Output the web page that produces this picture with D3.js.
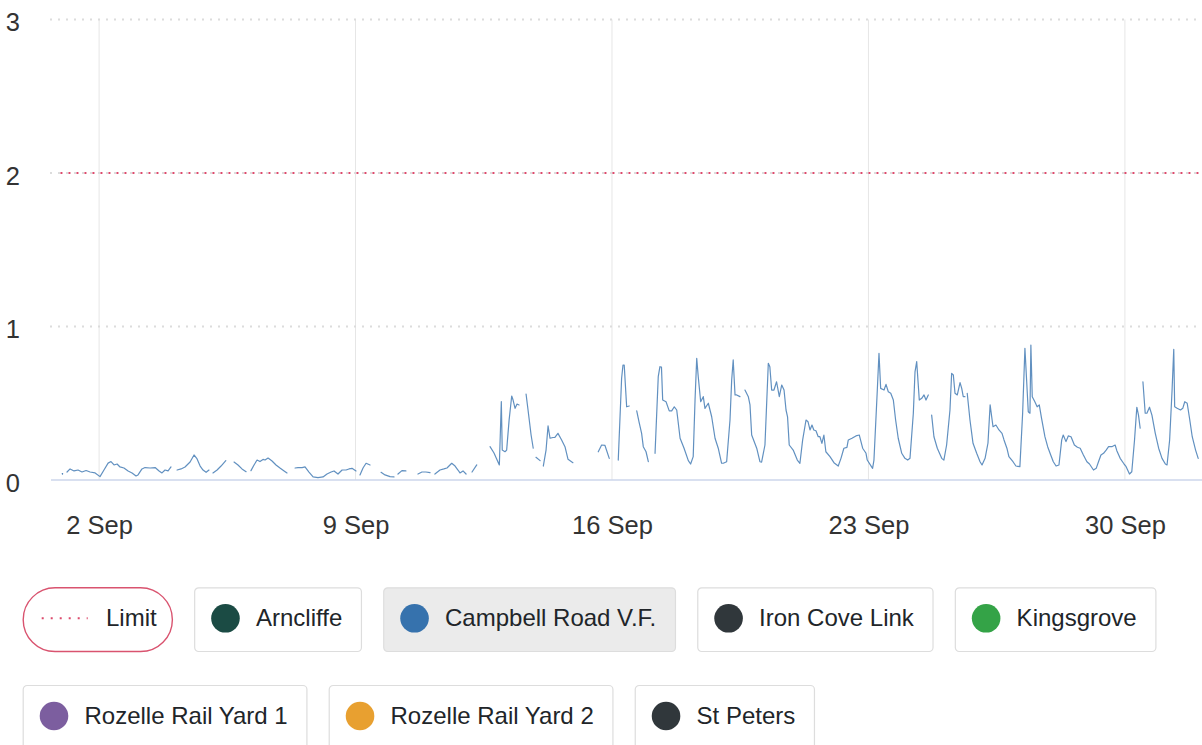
<!DOCTYPE html>
<html><head><meta charset="utf-8">
<script src="https://cdn.jsdelivr.net/npm/d3@7"></script>
<style>
html,body{margin:0;padding:0;background:#fff;overflow:hidden}
svg{display:block;font-family:"Liberation Sans",Arial,Helvetica,sans-serif}
</style></head><body>
<svg id="chart" width="1202" height="745"></svg>
<script>
// ---------- data ----------
const startDate = Date.UTC(2024, 8, 1);          // 1 Sep 00:00, hour 0 of the series
const yTicks = [0, 1, 2, 3];
const xTickDays = [2, 9, 16, 23, 30];             // 2 Sep, 9 Sep, 16 Sep, 23 Sep, 30 Sep
const limitValue = 2;
const legendNames = ["Limit", "Arncliffe", "Campbell Road V.F.", "Iron Cove Link", "Kingsgrove",
                     "Rozelle Rail Yard 1", "Rozelle Rail Yard 2", "St Peters"];
const legendColors = ["#dc4a6c", "#1b4b44", "#3672ad", "#30373b", "#34a347",
                      "#7c5e9f", "#e8a030", "#30373b"];
const activeSeries = "Campbell Road V.F.";
// Campbell Road V.F. : [hours since 1 Sep 00:00, value]; null = gap in the record
const campbellRoad = [
 [0,0.04], null,
 [3.0,0.052],[5.0,0.072],[7.6,0.059],[10.2,0.065],[12.8,0.052],[15.5,0.062],[18.1,0.052],[21.4,0.046],
 [24.6,0.022],[27.2,0.065],[29.9,0.11],[31.8,0.12],[33.8,0.098],[35.8,0.104],[37.7,0.085],[40.3,0.078],
 [43.0,0.059],[45.6,0.046],[48.2,0.026],[49.5,0.033],[52.1,0.072],[54.1,0.081],[57.4,0.078],[60.7,0.081],
 [63.3,0.059],[65.2,0.046],[67.2,0.065],[69.2,0.059],[71.1,0.085], null,
 [75.1,0.065],[77.7,0.072],[80.3,0.085],[83.6,0.117],[86.2,0.163],[88.2,0.137],[90.2,0.091],[92.1,0.065],
 [94.1,0.05],[96.0,0.065], null,
 [98.6,0.046],[101.3,0.065],[103.9,0.091],[107.0,0.126], null,
 [112.4,0.117],[115.0,0.098],[117.6,0.072],[120.3,0.054], null,
 [123.5,0.061],[125.5,0.098],[127.5,0.13],[129.4,0.12],[131.4,0.134],[132.7,0.13],[134.7,0.143],[137.3,0.124],
 [139.9,0.098],[142.5,0.078],[145.2,0.059],[147.1,0.046], null,
 [152.4,0.078],[154.3,0.081],[157.0,0.081],[158.9,0.085],[161.5,0.052],[164.2,0.02],[167.4,0.016],[170.7,0.02],
 [173.3,0.039],[176.0,0.052],[177.9,0.059],[180.5,0.039],[183.2,0.065],[185.8,0.065],[187.7,0.072],[189.7,0.076],
 [192.3,0.059], null,
 [194.9,0.033],[196.9,0.078],[198.9,0.109],[201.5,0.098], null,
 [208.7,0.05],[211.3,0.033],[214.6,0.022],[217.2,0.02], null,
 [219.8,0.039],[222.4,0.061],[225.0,0.059], null,
 [232.9,0.039],[235.5,0.052],[238.1,0.052],[240.8,0.048], null,
 [244.0,0.039],[247.3,0.065],[249.9,0.072],[251.9,0.078],[255.0,0.109],[257.2,0.091],[259.1,0.065],[260.4,0.046],
 [262.4,0.059],[264.4,0.039], null,
 [268.3,0.052],[271.4,0.098], null,
 [280.1,0.217],[282.7,0.176],[286.2,0.098],[287.5,0.51],[288.1,0.195],[289.9,0.184],[291.0,0.195],[292.6,0.39],
 [294.3,0.547],[295.2,0.521],[296.5,0.467],[297.8,0.495],[299.1,0.489], null,
 [303.7,0.56],[305.0,0.456],[307.0,0.293],[308.4,0.207], null,
 [310.2,0.148],[312.9,0.126], null,
 [315.0,0.091],[316.8,0.195],[318.1,0.352],[319.4,0.272],[321.3,0.277],[322.6,0.278],[324.6,0.304],[327.0,0.261],
 [329.2,0.217],[331.2,0.135],[334.4,0.113], null,
 [351.0,0.184],[353.2,0.228],[355.4,0.225],[358.2,0.141], null,
 [364.1,0.13],[366.3,0.663],[367.2,0.749],[368.0,0.749],[369.6,0.477],[371.3,0.482], null,
 [376.2,0.45],[377.7,0.378],[379.4,0.304],[380.5,0.217],[382.3,0.184],[383.8,0.119], null,
 [388.2,0.174],[390.3,0.673],[391.4,0.738],[392.4,0.736],[393.2,0.521],[395.4,0.51],[397.5,0.45],[399.1,0.45],
 [400.8,0.477],[402.4,0.456],[404.6,0.272],[407.2,0.207],[410.0,0.126],[411.5,0.104],[413.2,0.152],[414.4,0.521],
 [415.5,0.793],[416.5,0.673],[418.1,0.51],[419.8,0.543],[420.9,0.467],[423.1,0.5],[425.3,0.412],[427.5,0.272],
 [429.6,0.207],[431.8,0.109],[432.9,0.109],[435.1,0.119],[437.3,0.391],[438.4,0.651],[439.4,0.782],[440.6,0.554],
 [441.7,0.554],[443.8,0.543], null,
 [447.1,0.586],[449.3,0.543],[450.4,0.489],[451.5,0.293],[454.8,0.207],[456.9,0.119],[458.0,0.117],[460.2,0.228],
 [462.4,0.76],[463.4,0.738],[464.6,0.586],[466.1,0.586],[467.8,0.64],[469.6,0.543],[471.2,0.619],[472.7,0.586],
 [474.0,0.456],[475.0,0.412],[476.1,0.228],[478.7,0.195],[481.4,0.13],[483.1,0.109],[484.9,0.261],[487.1,0.391],
 [488.4,0.38],[489.7,0.326],[491.0,0.358],[492.2,0.326],[493.6,0.321],[495.1,0.282],[496.2,0.282],[497.5,0.239],
 [498.8,0.293],[500.1,0.184],[502.8,0.152],[505.4,0.113],[508.2,0.091],[510.0,0.141],[511.9,0.207],[513.9,0.213],
 [514.8,0.261],[517.2,0.272],[519.8,0.287],[522.0,0.293],[524.2,0.207],[526.4,0.174],[527.2,0.13],[530.7,0.076],
 [531.6,0.13],[533.8,0.586],[534.9,0.825],[536.0,0.597],[538.2,0.586],[539.5,0.623],[541.0,0.575],[542.6,0.565],
 [544.3,0.521],[545.8,0.391],[547.5,0.272],[549.8,0.174],[551.9,0.141],[553.7,0.13],[555.2,0.141],[557.4,0.435],
 [558.5,0.705],[559.6,0.771],[561.3,0.521],[562.9,0.532],[564.4,0.554],[565.7,0.521],[567.2,0.554], null,
 [569.4,0.423],[570.9,0.282],[573.1,0.207],[576.0,0.141],[577.4,0.13],[579.2,0.228],[581.4,0.456],[582.5,0.695],
 [583.6,0.684],[584.7,0.565],[586.2,0.554],[588.0,0.634],[589.1,0.597],[590.1,0.543],[591.2,0.543], null,
 [592.7,0.565],[594.5,0.391],[596.5,0.239],[598.9,0.174],[601.1,0.119],[602.4,0.098],[604.4,0.141],[606.3,0.241],
 [607.7,0.489],[609.6,0.347],[611.5,0.358],[613.5,0.326],[615.5,0.304],[616.8,0.261],[618.7,0.207],[620.0,0.152],
 [622.7,0.119],[624.6,0.091],[627.2,0.087],[629.0,0.435],[630.5,0.858],[631.6,0.651],[632.7,0.445],[633.8,0.435],
 [634.4,0.879],[635.3,0.543],[637.0,0.51],[638.5,0.477],[639.9,0.489],[641.4,0.402],[643.6,0.282],[645.4,0.217],
 [647.4,0.163],[649.1,0.119],[650.9,0.091],[652.8,0.098],[654.6,0.261],[655.6,0.293],[657.4,0.25],[658.9,0.287],
 [660.7,0.282],[662.9,0.228],[664.9,0.213],[666.7,0.207],[668.8,0.163],[671.1,0.119],[672.8,0.104],[675.4,0.065],
 [677.2,0.076],[678.7,0.119],[680.3,0.163],[682.0,0.174],[683.7,0.195],[685.3,0.217],[687.4,0.217],[689.6,0.228],
 [690.7,0.191],[692.9,0.141],[695.1,0.109],[696.8,0.087],[699.0,0.039],[700.5,0.054],[702.3,0.261],[703.8,0.474],
 [704.9,0.423],[706.0,0.337], null,
 [707.8,0.64],[709.3,0.435],[710.4,0.435],[712.1,0.474],[713.7,0.423],[715.9,0.304],[718.1,0.207],[720.3,0.141],
 [722.5,0.104],[723.6,0.098],[725.3,0.261],[726.9,0.586],[728.0,0.851],[728.6,0.477],[730.2,0.467],[732.4,0.456],
 [733.9,0.467],[735.2,0.51],[736.8,0.5],[738.5,0.391],[740.1,0.282],[742.3,0.195],[744.0,0.141]
];

// ---------- layout ----------
const HOUR = 3600e3;
const toDate = h => new Date(startDate + h * HOUR);
const svg = d3.select("#chart");
const plotLeft = 51, plotRight = 1202;

const x = d3.scaleUtc()
  .domain([toDate(-7.5), toDate(746.5)])
  .range([plotLeft, plotRight]);
const y = d3.scaleLinear().domain([0, 3]).range([480, 19.5]);

// vertical grid lines
svg.append("g").selectAll("line").data(xTickDays).join("line")
  .attr("x1", d => x(toDate((d - 1) * 24))).attr("x2", d => x(toDate((d - 1) * 24)))
  .attr("y1", y(3)).attr("y2", y(0))
  .attr("stroke", "#e6e6e6").attr("stroke-width", 1);

// horizontal dotted grid lines
svg.append("g").selectAll("line").data(yTicks.filter(d => d > 0)).join("line")
  .attr("x1", plotLeft - 1).attr("x2", plotRight)
  .attr("y1", d => y(d)).attr("y2", d => y(d))
  .attr("stroke", "#dcdcdc").attr("stroke-width", 2).attr("stroke-dasharray", "2,6");

// zero axis line
svg.append("line")
  .attr("x1", plotLeft).attr("x2", plotRight).attr("y1", y(0)).attr("y2", y(0))
  .attr("stroke", "#ccd6eb").attr("stroke-width", 1.5);

// limit line
svg.append("line")
  .attr("x1", x(toDate(0)) - 2).attr("x2", plotRight)
  .attr("y1", y(limitValue)).attr("y2", y(limitValue))
  .attr("stroke", legendColors[0]).attr("stroke-width", 2).attr("stroke-dasharray", "2,6");

// series
const line = d3.line()
  .defined(d => d !== null)
  .x(d => x(toDate(d[0])))
  .y(d => y(d[1]));
svg.append("path").datum(campbellRoad)
  .attr("d", line)
  .attr("fill", "none")
  .attr("stroke", "#3a74b0").attr("stroke-opacity", 0.8)
  .attr("stroke-width", 1.2).attr("stroke-linejoin", "round").attr("stroke-linecap", "round");
// isolated readings
const isolated = campbellRoad.filter((d, i, a) => d && !a[i - 1] && !a[i + 1]);
svg.append("g").selectAll("circle").data(isolated).join("circle")
  .attr("cx", d => x(toDate(d[0]))).attr("cy", d => y(d[1])).attr("r", 0.8)
  .attr("fill", "#3a74b0").attr("fill-opacity", 0.8);

// y axis
const yAxis = svg.append("g").attr("transform", "translate(20,0)")
  .call(d3.axisLeft(y).tickValues(yTicks).tickSize(0).tickPadding(0).tickFormat(d3.format("d")));
yAxis.select(".domain").remove();
yAxis.selectAll("text").attr("dy", "0.45em").attr("fill", "#333")
  .style("font-size", "25.5px").style("font-family", "'Liberation Sans',Arial,sans-serif");

// x axis
const xAxis = svg.append("g").attr("transform", `translate(0,${y(0)})`)
  .call(d3.axisBottom(x).tickValues(xTickDays.map(d => toDate((d - 1) * 24)))
    .tickSize(0).tickFormat(d3.utcFormat("%-d %b")));
xAxis.select(".domain").remove();
xAxis.selectAll("text").attr("y", 54).attr("dy", 0).attr("fill", "#333")
  .style("font-size", "25.5px").style("font-family", "'Liberation Sans',Arial,sans-serif");

// legend
const legend = svg.append("g");
let lx = 22.7, ly = 587.3;
const boxH = 63.7, gapX = 22.3, rowStep = 97.7, maxRight = 1190;
legendNames.forEach((name, i) => {
  const g = legend.append("g");
  const isLimit = i === 0;
  const txt = g.append("text").text(name)
    .attr("fill", "#212529").style("font-size", "24px");
  const tw = txt.node().getComputedTextLength();
  const w = isLimit ? tw + 98.5 : tw + 80.5;
  if (lx + w > maxRight) { lx = 22.7; ly += rowStep; }
  g.attr("transform", `translate(${lx},${ly})`);
  g.insert("rect", "text")
    .attr("x", 0.5).attr("y", 0.5).attr("width", w).attr("height", boxH)
    .attr("rx", isLimit ? boxH / 2 : 4)
    .attr("fill", name === activeSeries ? "#ebebeb" : "#fff")
    .attr("stroke", isLimit ? "#d9536f" : "#dddddd")
    .attr("stroke-width", isLimit ? 1.4 : 1.2);
  if (isLimit) {
    g.insert("line", "text").attr("x1", 19).attr("x2", 65).attr("y1", 31).attr("y2", 31)
      .attr("stroke", legendColors[i]).attr("stroke-width", 2).attr("stroke-dasharray", "2,7");
    txt.attr("x", 83.3).attr("y", 38.7);
  } else {
    g.insert("circle", "text").attr("cx", 31.3).attr("cy", 31).attr("r", 14.3)
      .attr("fill", legendColors[i]);
    txt.attr("x", 61.8).attr("y", 38.7);
  }
  lx += w + gapX;
});
</script>
</body></html>
